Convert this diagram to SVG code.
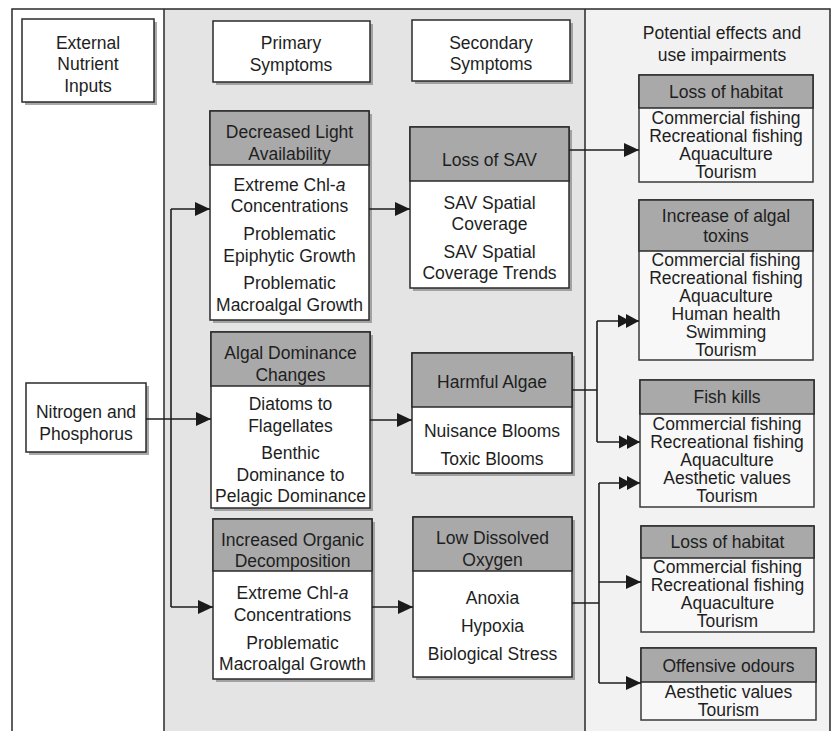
<svg xmlns="http://www.w3.org/2000/svg" width="832" height="731" viewBox="0 0 832 731">
<style>
text{font-family:"Liberation Sans",Arial,sans-serif;font-size:17.5px;fill:#1e1e1e;text-anchor:middle}
.frame{stroke:#2a2a2a;stroke-width:1.5;fill:none}
.box{fill:#ffffff;stroke:#2a2a2a;stroke-width:1.5}
.ebox{fill:#f8f8f8;stroke:#3a3a3a;stroke-width:1.5}
.hdr{fill:#a9a9a9;stroke:#2a2a2a;stroke-width:1.5}
.shadow{fill:#8c8c8c;opacity:0.75}
.con{stroke:#1e1e1e;stroke-width:1.6;fill:none}
</style>
<defs>
<marker id="arr" markerUnits="userSpaceOnUse" markerWidth="16" markerHeight="16" refX="15" refY="8" orient="auto">
<path d="M0,1 L15,8 L0,15 Z" fill="#1a1a1a"/>
</marker>
<marker id="dbl" markerUnits="userSpaceOnUse" markerWidth="22" markerHeight="16" refX="21" refY="8" orient="auto">
<path d="M0,1.5 L12,8 L0,14.5 Z M8,1 L21,8 L8,15 Z" fill="#1a1a1a"/>
</marker>
</defs>

<!-- column backgrounds -->
<rect x="12" y="9" width="152" height="722" fill="#ffffff"/>
<rect x="164" y="9" width="421" height="722" fill="#e4e4e4"/>
<rect x="585" y="9" width="245" height="722" fill="#f2f2f2"/>
<g id="frame">
<path class="frame" d="M12,731 V9 H830 V731 M164,9 V731 M585,9 V731"/>
</g>

<!-- column titles -->
<g id="title-external">
<rect class="shadow" x="25" y="22" width="132" height="83"/>
<rect class="box" x="22" y="19" width="132" height="83"/>
<text x="88" y="49">External</text>
<text x="88" y="70">Nutrient</text>
<text x="88" y="92">Inputs</text>
</g>
<g id="title-primary">
<rect class="shadow" x="216" y="24" width="157" height="61"/>
<rect class="box" x="213" y="21" width="157" height="61"/>
<text x="291" y="49">Primary</text>
<text x="291" y="71">Symptoms</text>
</g>
<g id="title-secondary">
<rect class="shadow" x="415" y="23" width="158" height="61"/>
<rect class="box" x="412" y="20" width="158" height="61"/>
<text x="491" y="49">Secondary</text>
<text x="491" y="70">Symptoms</text>
</g>
<g id="title-effects">
<text x="722" y="39">Potential effects and</text>
<text x="722" y="61">use impairments</text>
</g>

<!-- input -->
<g id="nitrogen-phosphorus">
<rect class="shadow" x="29" y="386" width="120" height="69"/>
<rect class="box" x="26" y="383" width="120" height="69"/>
<text x="86" y="418">Nitrogen and</text>
<text x="86" y="440">Phosphorus</text>
</g>

<!-- primary symptoms -->
<g id="decreased-light">
<rect class="shadow" x="213" y="114" width="159" height="209"/>
<rect class="box" x="210" y="111" width="159" height="209"/>
<rect class="hdr" x="210" y="111" width="159" height="54"/>
<text x="289.5" y="138">Decreased Light</text>
<text x="289.5" y="160">Availability</text>
<text x="289.5" y="191">Extreme Chl-<tspan font-style="italic">a</tspan></text>
<text x="289.5" y="212">Concentrations</text>
<text x="289.5" y="240">Problematic</text>
<text x="289.5" y="262">Epiphytic Growth</text>
<text x="289.5" y="289">Problematic</text>
<text x="289.5" y="311">Macroalgal Growth</text>
</g>
<g id="algal-dominance">
<rect class="shadow" x="214" y="335" width="159" height="176"/>
<rect class="box" x="211" y="332" width="159" height="176"/>
<rect class="hdr" x="211" y="332" width="159" height="54"/>
<text x="290.5" y="359">Algal Dominance</text>
<text x="290.5" y="381">Changes</text>
<text x="290.5" y="410">Diatoms to</text>
<text x="290.5" y="432">Flagellates</text>
<text x="290.5" y="459">Benthic</text>
<text x="290.5" y="481">Dominance to</text>
<text x="290.5" y="502">Pelagic Dominance</text>
</g>
<g id="organic-decomposition">
<rect class="shadow" x="216" y="522" width="159" height="160"/>
<rect class="box" x="213" y="519" width="159" height="160"/>
<rect class="hdr" x="213" y="519" width="159" height="52"/>
<text x="292.5" y="546">Increased Organic</text>
<text x="292.5" y="567">Decomposition</text>
<text x="292.5" y="599">Extreme Chl-<tspan font-style="italic">a</tspan></text>
<text x="292.5" y="621">Concentrations</text>
<text x="292.5" y="649">Problematic</text>
<text x="292.5" y="670">Macroalgal Growth</text>
</g>

<!-- secondary symptoms -->
<g id="loss-of-sav">
<rect class="shadow" x="413" y="130" width="159" height="161"/>
<rect class="box" x="410" y="127" width="159" height="161"/>
<rect class="hdr" x="410" y="127" width="159" height="54"/>
<text x="489.5" y="166">Loss of SAV</text>
<text x="489.5" y="209">SAV Spatial</text>
<text x="489.5" y="230">Coverage</text>
<text x="489.5" y="258">SAV Spatial</text>
<text x="489.5" y="279">Coverage Trends</text>
</g>
<g id="harmful-algae">
<rect class="shadow" x="415" y="356" width="160" height="120"/>
<rect class="box" x="412" y="353" width="160" height="120"/>
<rect class="hdr" x="412" y="353" width="160" height="54"/>
<text x="492" y="388">Harmful Algae</text>
<text x="492" y="437">Nuisance Blooms</text>
<text x="492" y="465">Toxic Blooms</text>
</g>
<g id="low-dissolved-oxygen">
<rect class="shadow" x="416" y="520" width="159" height="160"/>
<rect class="box" x="413" y="517" width="159" height="160"/>
<rect class="hdr" x="413" y="517" width="159" height="54"/>
<text x="492.5" y="544">Low Dissolved</text>
<text x="492.5" y="566">Oxygen</text>
<text x="492.5" y="604">Anoxia</text>
<text x="492.5" y="632">Hypoxia</text>
<text x="492.5" y="660">Biological Stress</text>
</g>

<!-- effects -->
<g id="loss-of-habitat-1">
<rect class="ebox" x="639" y="75" width="174" height="107"/>
<rect class="hdr" x="639" y="75" width="174" height="33"/>
<text x="726" y="98">Loss of habitat</text>
<text x="726" y="124">Commercial fishing</text>
<text x="726" y="142">Recreational fishing</text>
<text x="726" y="160">Aquaculture</text>
<text x="726" y="178">Tourism</text>
</g>
<g id="algal-toxins">
<rect class="ebox" x="639" y="200" width="174" height="160"/>
<rect class="hdr" x="639" y="200" width="174" height="51"/>
<text x="726" y="222">Increase of algal</text>
<text x="726" y="242">toxins</text>
<text x="726" y="266">Commercial fishing</text>
<text x="726" y="284">Recreational fishing</text>
<text x="726" y="302">Aquaculture</text>
<text x="726" y="320">Human health</text>
<text x="726" y="338">Swimming</text>
<text x="726" y="356">Tourism</text>
</g>
<g id="fish-kills">
<rect class="ebox" x="640" y="380" width="174" height="127"/>
<rect class="hdr" x="640" y="380" width="174" height="34"/>
<text x="727" y="403">Fish kills</text>
<text x="727" y="430">Commercial fishing</text>
<text x="727" y="448">Recreational fishing</text>
<text x="727" y="466">Aquaculture</text>
<text x="727" y="484">Aesthetic values</text>
<text x="727" y="502">Tourism</text>
</g>
<g id="loss-of-habitat-2">
<rect class="ebox" x="641" y="526" width="173" height="106"/>
<rect class="hdr" x="641" y="526" width="173" height="32"/>
<text x="727.5" y="548">Loss of habitat</text>
<text x="727.5" y="573">Commercial fishing</text>
<text x="727.5" y="591">Recreational fishing</text>
<text x="727.5" y="609">Aquaculture</text>
<text x="727.5" y="627">Tourism</text>
</g>
<g id="offensive-odours">
<rect class="ebox" x="641" y="648" width="175" height="72"/>
<rect class="hdr" x="641" y="648" width="175" height="34"/>
<text x="728.5" y="672">Offensive odours</text>
<text x="728.5" y="698">Aesthetic values</text>
<text x="728.5" y="716">Tourism</text>
</g>

<!-- connectors -->
<g id="connectors">
<path class="con" d="M146,419 H211" marker-end="url(#arr)"/>
<path class="con" d="M171,209 V607"/>
<path class="con" d="M171,209 H210" marker-end="url(#arr)"/>
<path class="con" d="M171,607 H213" marker-end="url(#arr)"/>
<path class="con" d="M369,209 H410" marker-end="url(#arr)"/>
<path class="con" d="M370,420 H412" marker-end="url(#arr)"/>
<path class="con" d="M372,607 H413" marker-end="url(#arr)"/>
<path class="con" d="M569,150 H639" marker-end="url(#arr)"/>
<path class="con" d="M572,390 H597 M597,321 V442"/>
<path class="con" d="M597,321 H639" marker-end="url(#dbl)"/>
<path class="con" d="M597,442 H640" marker-end="url(#dbl)"/>
<path class="con" d="M572,603 H599 M599,483 V683"/>
<path class="con" d="M599,483 H640" marker-end="url(#dbl)"/>
<path class="con" d="M599,582 H641" marker-end="url(#arr)"/>
<path class="con" d="M599,683 H641" marker-end="url(#arr)"/>
</g>
</svg>
